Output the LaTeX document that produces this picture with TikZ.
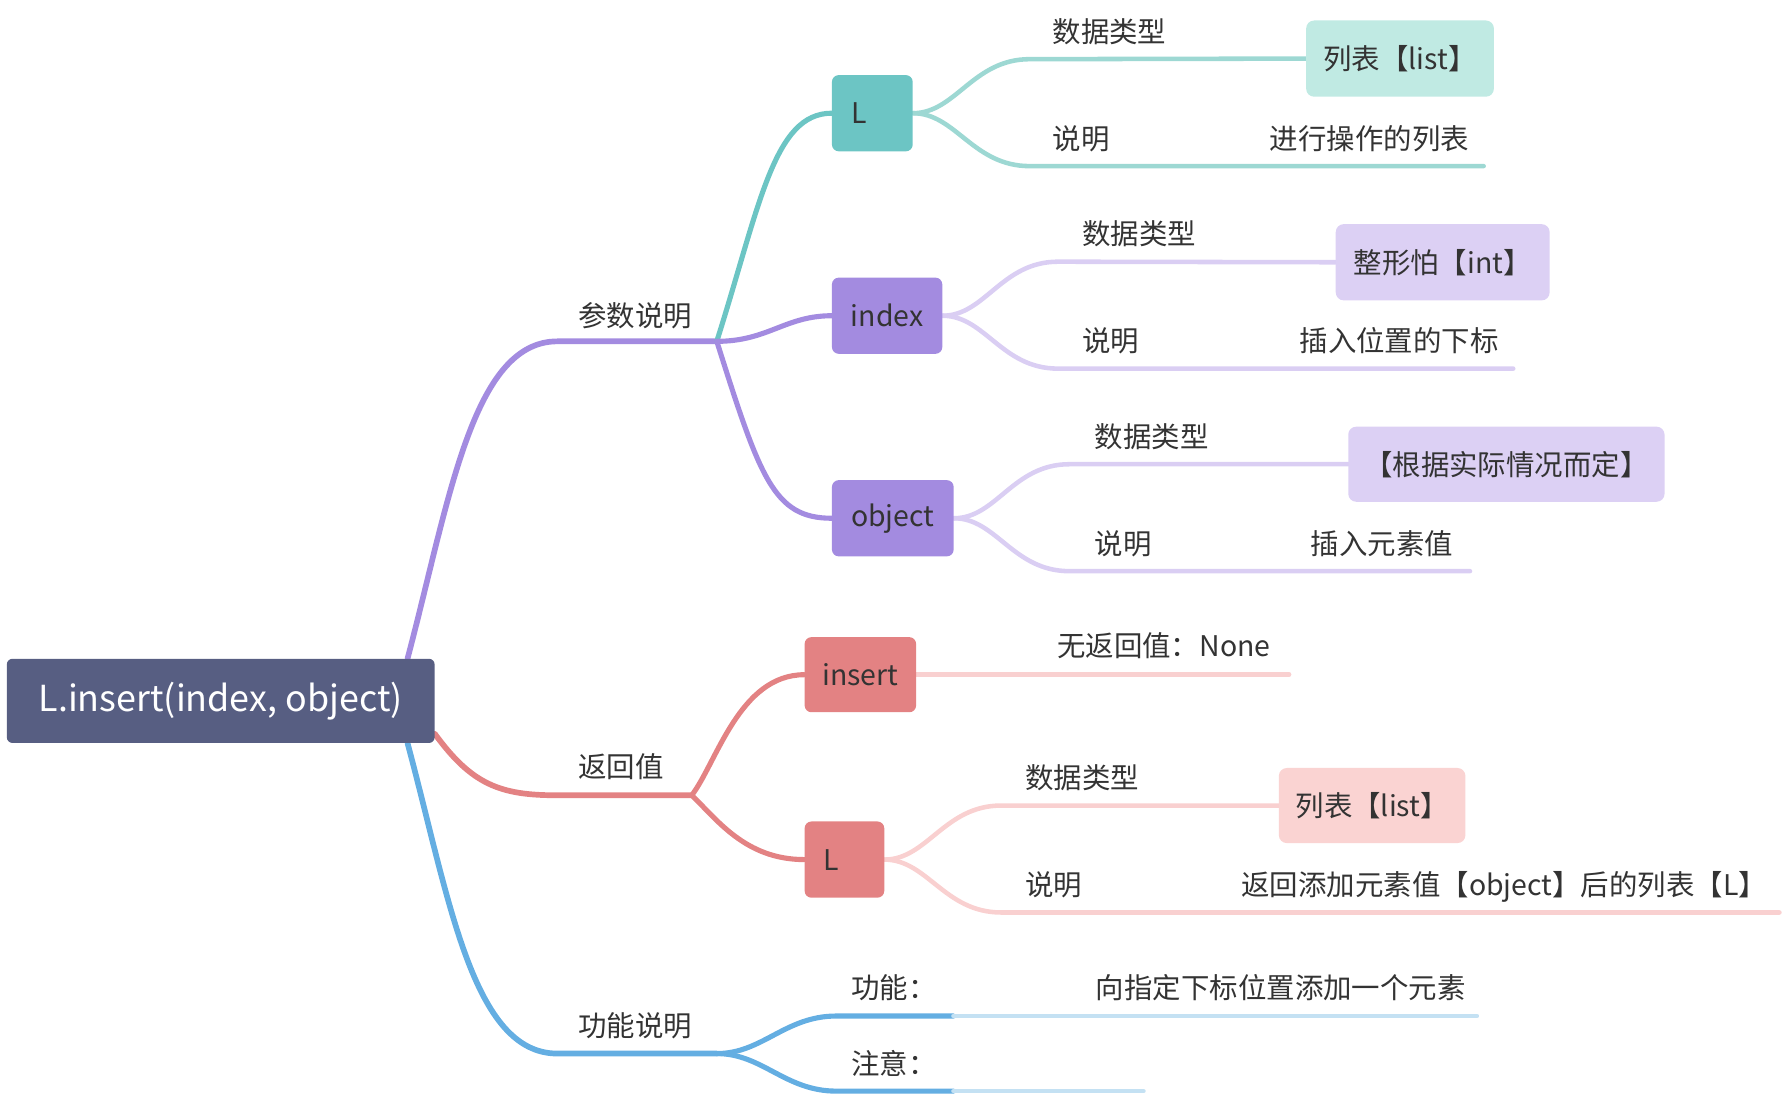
\documentclass[tikz,border=0pt]{standalone}
\usepackage{fontspec}
\setmainfont{Noto Sans CJK SC}
\usetikzlibrary{backgrounds}
\definecolor{rootc}{HTML}{575E82}
\definecolor{purp}{HTML}{A38BE0}
\definecolor{tealc}{HTML}{6CC5C4}
\definecolor{redc}{HTML}{E38283}
\definecolor{bluec}{HTML}{64AEE2}
\definecolor{ltteal}{HTML}{9DD8D3}
\definecolor{ltpurp}{HTML}{DACEF3}
\definecolor{ltred}{HTML}{F9D0D0}
\definecolor{ltblue}{HTML}{C4E1F3}
\definecolor{boxteal}{HTML}{C0EAE3}
\definecolor{boxpurp}{HTML}{DCD0F4}
\definecolor{boxred}{HTML}{FAD3D2}
\definecolor{txt}{HTML}{333333}
\tikzset{
  lbl/.style={font=\fontsize{25}{29}\selectfont, text=txt, inner sep=0pt, anchor=base west},
  topicbox/.style={font=\fontsize{25}{29}\selectfont, text=txt, rounded corners=6pt, inner sep=0pt, anchor=west},
  leafbox/.style={font=\fontsize{25}{29}\selectfont, text=txt, rounded corners=7pt, inner sep=0pt},
  mainline/.style={line width=5pt, line cap=round},
  midline/.style={line width=4.5pt, line cap=round},
  subline/.style={line width=4pt, line cap=round},
}
\begin{document}
\begin{tikzpicture}[x=1pt,y=-1pt]
\useasboundingbox (0,0) rectangle (1568,964);
% root
\node[fill=rootc, rounded corners=5pt, minimum width=376, minimum height=74, text=white,
      font=\fontsize{31.5}{36}\selectfont, inner sep=0pt] (root) at (194,616) {L.insert(index, object)};
% level-1 labels and junctions
\node[lbl] (lpar) at (508,287) {参数说明};
\node[lbl] (lret) at (508,683) {返回值};
\node[lbl] (lfun) at (508,911) {功能说明};
\coordinate (pj) at (630,300);
\coordinate (rj) at (608,699);
\coordinate (fj) at (630,926);
% level-2 topics
\node[topicbox, fill=tealc, minimum height=67, text width=37pt, inner xsep=17pt, align=left] (Ln) at (731,99.5) {L};
\node[topicbox, fill=purp, minimum height=67, minimum width=97] (idx) at (731,277.5) {index};
\node[topicbox, fill=purp, minimum height=67, minimum width=107] (obj) at (731,455.5) {object};
\node[topicbox, fill=redc, minimum height=66, minimum width=98] (ins) at (707,593) {insert};
\node[topicbox, fill=redc, minimum height=67, text width=36pt, inner xsep=17pt, align=left] (rL) at (707,755.5) {L};
% leaf boxes
\node[leafbox, fill=boxteal, minimum width=165, minimum height=67] (b1) at (1230.5,51.5) {列表【list】};
\node[leafbox, fill=boxpurp, minimum width=188, minimum height=67] (b2) at (1268,230.5) {整形怕【int】};
\node[leafbox, fill=boxpurp, minimum width=278, minimum height=66] (b3) at (1324,408) {【根据实际情况而定】};
\node[leafbox, fill=boxred, minimum width=164, minimum height=66] (b4) at (1206,708) {列表【list】};
% level-3 labels
\node[lbl] (t1) at (925,37) {数据类型};
\node[lbl] (t2) at (925,131) {说明};
\node[lbl] (t3) at (1116,131) {进行操作的列表};
\node[lbl] (t4) at (951,215) {数据类型};
\node[lbl] (t5) at (951,309) {说明};
\node[lbl] (t6) at (1142,309) {插入位置的下标};
\node[lbl] (t7) at (962,393) {数据类型};
\node[lbl] (t8) at (962,487) {说明};
\node[lbl] (t9) at (1152,487) {插入元素值};
\node[lbl] (t10) at (929,577) {无返回值：None};
\node[lbl] (t11) at (901,693) {数据类型};
\node[lbl] (t12) at (901,787) {说明};
\node[lbl] (t13) at (1091,787) {返回添加元素值【object】后的列表【L】};
\node[lbl] (t14) at (748,878) {功能：};
\node[lbl] (t15) at (963,878) {向指定下标位置添加一个元素};
\node[lbl] (t16) at (748,944) {注意：};
% line ends
\coordinate (e1) at (1304,146);
\coordinate (e2) at (1330,324);
\coordinate (e3) at (1292,502);
\coordinate (e4) at (1133,593);
\coordinate (e5) at (1564,802);
\coordinate (f1a) at (838,893);
\coordinate (f1b) at (1298,893);
\coordinate (f2a) at (838,959);
\coordinate (f2b) at (1005,959);
\begin{pgfonlayer}{background}
% main branches
\draw[purp, mainline] ([xshift=-24pt]root.north east) .. controls (395,440) and (415,300) .. (490,300) -- (pj);
\draw[redc, mainline] ([yshift=-29pt]root.east) .. controls (415,690) and (440,699) .. (490,699) -- (rj);
\draw[bluec, mainline] ([xshift=-24pt]root.south east) .. controls (395,790) and (415,926) .. (490,926) -- (fj);
% level 2
\draw[tealc, midline] (pj) .. controls (668,180) and (680,99.5) .. (Ln.west);
\draw[purp, midline] (pj) .. controls (675,300) and (690,277.5) .. (idx.west);
\draw[purp, midline] (pj) .. controls (668,420) and (680,455.5) .. (obj.west);
\draw[redc, midline] (rj) .. controls (630,670) and (650,593) .. (ins.west);
\draw[redc, midline] (rj) .. controls (630,720) and (655,755.5) .. (rL.west);
\draw[bluec, midline] (fj) .. controls (670,926) and (690,893) .. (735,893) -- (f1a);
\draw[bluec, midline] (fj) .. controls (670,926) and (690,959) .. (735,959) -- (f2a);
% level 3
\draw[ltteal, subline] (Ln.east) .. controls (840,99.5) and (855,52) .. (905,52) -- (b1.west);
\draw[ltteal, subline] (Ln.east) .. controls (840,99.5) and (855,146) .. (905,146) -- (e1);
\draw[ltpurp, subline] (idx.east) .. controls (866,277.5) and (880,230) .. (930,230) -- (b2.west);
\draw[ltpurp, subline] (idx.east) .. controls (866,277.5) and (880,324) .. (930,324) -- (e2);
\draw[ltpurp, subline] (obj.east) .. controls (876,455.5) and (890,408) .. (940,408) -- (b3.west);
\draw[ltpurp, subline] (obj.east) .. controls (876,455.5) and (890,502) .. (940,502) -- (e3);
\draw[ltred, subline] (ins.east) -- (e4);
\draw[ltred, subline] (rL.east) .. controls (815,755.5) and (830,708) .. (880,708) -- (b4.west);
\draw[ltred, subline] (rL.east) .. controls (815,755.5) and (830,802) .. (880,802) -- (e5);
\draw[ltblue, subline] (f1a) -- (f1b);
\draw[ltblue, subline] (f2a) -- (f2b);
\end{pgfonlayer}
\end{tikzpicture}
\end{document}
